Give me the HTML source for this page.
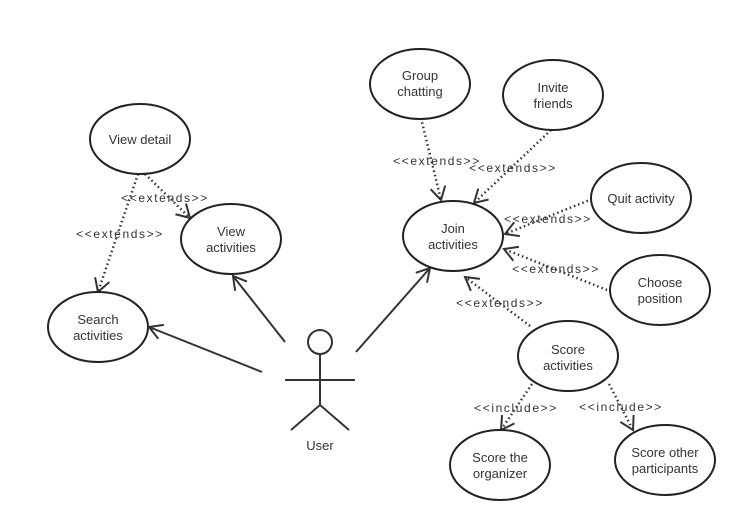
<!DOCTYPE html>
<html><head><meta charset="utf-8"><style>
html,body{margin:0;padding:0;background:#fff;}
svg{display:block;}
text{font-family:"Liberation Sans","DejaVu Sans",sans-serif;font-size:13px;fill:#333;}
.e{fill:#fff;stroke:#222;stroke-width:2;}
.s{stroke:#333;stroke-width:2;fill:none;}
.d{stroke:#333;stroke-width:2.5;fill:none;stroke-dasharray:1.5 3;}
.lb{font-size:12px;letter-spacing:1.6px;}
</style></head><body>
<svg width="747" height="532" viewBox="0 0 747 532" xmlns="http://www.w3.org/2000/svg">
<defs>
<marker id="a" markerWidth="18" markerHeight="18" refX="15" refY="9" orient="auto" markerUnits="userSpaceOnUse">
<path d="M2,1.5 L15,9 L2,16.5" fill="none" stroke="#333" stroke-width="2"/>
</marker>
</defs>
<line class="s" x1="285" y1="342" x2="233" y2="276" marker-end="url(#a)"/>
<line class="s" x1="262" y1="372" x2="149" y2="327" marker-end="url(#a)"/>
<line class="s" x1="356" y1="352" x2="430" y2="268" marker-end="url(#a)"/>
<line class="d" x1="145" y1="174" x2="190" y2="218" marker-end="url(#a)"/>
<line class="d" x1="138" y1="174" x2="98" y2="292" marker-end="url(#a)"/>
<line class="d" x1="421" y1="118" x2="441" y2="200" marker-end="url(#a)"/>
<line class="d" x1="551" y1="130" x2="474" y2="203" marker-end="url(#a)"/>
<line class="d" x1="592" y1="199" x2="505" y2="234" marker-end="url(#a)"/>
<line class="d" x1="607" y1="290" x2="504" y2="249" marker-end="url(#a)"/>
<line class="d" x1="530" y1="326" x2="465" y2="277" marker-end="url(#a)"/>
<line class="d" x1="532" y1="384" x2="501" y2="430" marker-end="url(#a)"/>
<line class="d" x1="609" y1="384" x2="633" y2="430" marker-end="url(#a)"/>
<text class="lb" x="165" y="202" text-anchor="middle">&lt;&lt;extends&gt;&gt;</text>
<text class="lb" x="120" y="238" text-anchor="middle">&lt;&lt;extends&gt;&gt;</text>
<text class="lb" x="437" y="165" text-anchor="middle">&lt;&lt;extends&gt;&gt;</text>
<text class="lb" x="513" y="172" text-anchor="middle">&lt;&lt;extends&gt;&gt;</text>
<text class="lb" x="548" y="223" text-anchor="middle">&lt;&lt;extends&gt;&gt;</text>
<text class="lb" x="556" y="273" text-anchor="middle">&lt;&lt;extends&gt;&gt;</text>
<text class="lb" x="500" y="307" text-anchor="middle">&lt;&lt;extends&gt;&gt;</text>
<text class="lb" x="516" y="412" text-anchor="middle">&lt;&lt;include&gt;&gt;</text>
<text class="lb" x="621" y="411" text-anchor="middle">&lt;&lt;include&gt;&gt;</text>
<ellipse class="e" cx="140" cy="139" rx="50" ry="35"/>
<text x="140" y="144" text-anchor="middle">View detail</text>
<ellipse class="e" cx="231" cy="239" rx="50" ry="35"/>
<text x="231" y="236" text-anchor="middle">View</text><text x="231" y="252" text-anchor="middle">activities</text>
<ellipse class="e" cx="98" cy="327" rx="50" ry="35"/>
<text x="98" y="324" text-anchor="middle">Search</text><text x="98" y="340" text-anchor="middle">activities</text>
<ellipse class="e" cx="420" cy="84" rx="50" ry="35"/>
<text x="420" y="80" text-anchor="middle">Group</text><text x="420" y="96" text-anchor="middle">chatting</text>
<ellipse class="e" cx="553" cy="95" rx="50" ry="35"/>
<text x="553" y="92" text-anchor="middle">Invite</text><text x="553" y="108" text-anchor="middle">friends</text>
<ellipse class="e" cx="453" cy="236" rx="50" ry="35"/>
<text x="453" y="233" text-anchor="middle">Join</text><text x="453" y="249" text-anchor="middle">activities</text>
<ellipse class="e" cx="641" cy="198" rx="50" ry="35"/>
<text x="641" y="203" text-anchor="middle">Quit activity</text>
<ellipse class="e" cx="660" cy="290" rx="50" ry="35"/>
<text x="660" y="287" text-anchor="middle">Choose</text><text x="660" y="303" text-anchor="middle">position</text>
<ellipse class="e" cx="568" cy="356" rx="50" ry="35"/>
<text x="568" y="354" text-anchor="middle">Score</text><text x="568" y="370" text-anchor="middle">activities</text>
<ellipse class="e" cx="500" cy="465" rx="50" ry="35"/>
<text x="500" y="462" text-anchor="middle">Score the</text><text x="500" y="478" text-anchor="middle">organizer</text>
<ellipse class="e" cx="665" cy="460" rx="50" ry="35"/>
<text x="665" y="457" text-anchor="middle">Score other</text><text x="665" y="473" text-anchor="middle">participants</text>
<circle class="s" cx="320" cy="342" r="12"/>
<line class="s" x1="320" y1="354" x2="320" y2="405"/>
<line class="s" x1="285" y1="380" x2="355" y2="380"/>
<line class="s" x1="320" y1="405" x2="291" y2="430"/>
<line class="s" x1="320" y1="405" x2="349" y2="430"/>
<text x="320" y="450" text-anchor="middle">User</text>
</svg>
</body></html>
